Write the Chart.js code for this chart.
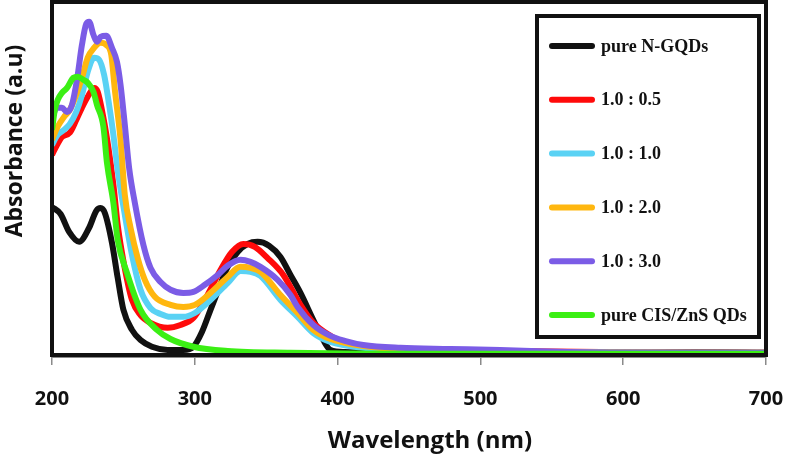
<!DOCTYPE html>
<html lang="en">
<head>
  <meta charset="UTF-8">
  <meta name="viewport" content="width=device-width, initial-scale=1">
  <title>UV-Vis Absorbance</title>
  <!-- Chart.js for visualization -->
  <script src="https://cdn.jsdelivr.net/npm/chart.js"></script>
  <style>
    html, body { margin: 0; padding: 0; background: #fff; }
    #wrap { width: 787px; height: 456px; position: relative; }
  </style>
</head>
<body>
  <div id="wrap">
    <canvas id="absChart" width="787" height="456"></canvas>
  </div>

  <script>
    // Series labels (legend order)
    const seriesLabels = ['pure N-GQDs', '1.0 : 0.5', '1.0 : 1.0', '1.0 : 2.0', '1.0 : 3.0', 'pure CIS/ZnS QDs'];
    const seriesColors = ['#111111', '#ff0a0a', '#5ad2f4', '#ffb70f', '#7b5ce6', '#3bef14'];

    // X axis tick labels (nm)
    const xTicks = [200, 300, 400, 500, 600, 700];

    // pure N-GQDs
    const ngqdWl  = [200, 206, 212, 219, 226, 231, 234, 237, 242, 246, 250, 256, 262, 270, 281, 292, 299, 305, 311, 317, 323, 330, 337, 344, 352, 360, 367, 374, 383, 390, 395, 405, 450, 500, 600, 650, 700];
    const ngqdAbs = [0.423, 0.403, 0.352, 0.324, 0.364, 0.412, 0.420, 0.406, 0.321, 0.222, 0.131, 0.074, 0.045, 0.026, 0.017, 0.017, 0.026, 0.068, 0.131, 0.193, 0.253, 0.295, 0.318, 0.324, 0.313, 0.281, 0.230, 0.179, 0.102, 0.045, 0.017, 0.011, 0.009, 0.009, 0.009, 0.011, 0.009];

    // 1.0 : 0.5
    const r05Wl  = [200, 203.5, 207, 212.5, 217, 221, 225, 229.5, 232, 236, 239.5, 243, 246, 250.5, 256, 262, 269, 281, 290, 299, 307, 318, 326, 334, 342, 351, 362, 374, 383, 395, 405, 430, 465, 514, 584, 700];
    const r05Abs = [0.571, 0.599, 0.622, 0.634, 0.670, 0.705, 0.736, 0.761, 0.750, 0.676, 0.591, 0.486, 0.372, 0.259, 0.159, 0.116, 0.094, 0.080, 0.088, 0.108, 0.159, 0.244, 0.295, 0.318, 0.310, 0.278, 0.230, 0.145, 0.094, 0.057, 0.037, 0.023, 0.017, 0.014, 0.011, 0.009];

    // 1.0 : 1.0
    const r10Wl  = [200, 204, 208.5, 212.5, 217, 221, 225, 229.5, 233, 236.5, 240, 243, 246, 251, 256, 262, 269, 276, 283, 292, 300, 311, 323, 332, 339, 346, 360, 372, 383, 395, 418, 451, 514, 700];
    const r10Abs = [0.599, 0.628, 0.642, 0.659, 0.693, 0.741, 0.807, 0.847, 0.841, 0.798, 0.713, 0.628, 0.528, 0.401, 0.287, 0.188, 0.136, 0.119, 0.111, 0.111, 0.122, 0.159, 0.207, 0.241, 0.239, 0.227, 0.159, 0.111, 0.065, 0.040, 0.023, 0.014, 0.011, 0.009];

    // 1.0 : 2.0
    const r20Wl  = [200, 204, 208.5, 212.5, 217, 221, 225, 229.5, 234, 238, 241.5, 244, 248, 251, 255, 260, 265, 272, 283, 292, 300, 311, 323, 332, 339, 346, 360, 372, 383, 395, 418, 451, 514, 584, 700];
    const r20Abs = [0.614, 0.651, 0.679, 0.699, 0.742, 0.790, 0.847, 0.875, 0.889, 0.883, 0.855, 0.756, 0.614, 0.457, 0.364, 0.278, 0.216, 0.168, 0.145, 0.139, 0.145, 0.179, 0.224, 0.253, 0.250, 0.239, 0.173, 0.122, 0.074, 0.048, 0.028, 0.017, 0.011, 0.009, 0.009];

    // 1.0 : 3.0
    const r30Wl  = [200, 203.5, 207, 210.5, 214, 217.5, 221, 224, 226, 229, 231.5, 234, 238, 242, 245.5, 248, 251, 254, 258, 264, 269, 276, 283, 292, 299, 307, 316, 323, 332, 339, 346, 358, 367, 372, 383, 395, 405, 418, 444, 479, 514, 561, 598, 700];
    const r30Abs = [0.676, 0.705, 0.705, 0.693, 0.713, 0.784, 0.884, 0.943, 0.949, 0.912, 0.892, 0.906, 0.909, 0.875, 0.835, 0.770, 0.656, 0.534, 0.435, 0.315, 0.250, 0.210, 0.188, 0.179, 0.182, 0.202, 0.230, 0.256, 0.273, 0.267, 0.253, 0.216, 0.173, 0.139, 0.088, 0.057, 0.043, 0.031, 0.023, 0.020, 0.017, 0.011, 0.009, 0.009];

    // pure CIS/ZnS QDs
    const cisWl  = [200, 202, 204, 207, 210.5, 215, 218, 222, 225, 229, 231.5, 236, 238.5, 243, 246, 252.5, 262, 273.5, 283, 299, 323, 367, 444, 700];
    const cisAbs = [0.642, 0.699, 0.727, 0.747, 0.761, 0.790, 0.793, 0.784, 0.776, 0.750, 0.713, 0.651, 0.548, 0.435, 0.330, 0.236, 0.131, 0.074, 0.048, 0.026, 0.014, 0.009, 0.006, 0.006];

    const seriesWl  = [ngqdWl, r05Wl, r10Wl, r20Wl, r30Wl, cisWl];
    const seriesAbs = [ngqdAbs, r05Abs, r10Abs, r20Abs, r30Abs, cisAbs];

    function toPoints(wl, abs) {
      return wl.map((x, i) => ({ x: x, y: abs[i] }));
    }

    // Later series in the legend are painted on top (lower order = drawn last)
    const datasets = seriesLabels.map((label, i) => ({
      label: label,
      data: toPoints(seriesWl[i], seriesAbs[i]),
      borderColor: seriesColors[i],
      backgroundColor: seriesColors[i],
      borderWidth: 6,
      pointRadius: 0,
      cubicInterpolationMode: 'monotone',
      fill: false,
      order: seriesLabels.length - i
    }));

    // Black frame around the plot, boxed legend and both axis titles
    const framePlugin = {
      id: 'frame',
      afterDatasetsDraw(chart) {
        const ctx = chart.ctx;
        const a = chart.chartArea;
        ctx.save();
        ctx.strokeStyle = '#111';
        ctx.lineWidth = 4;
        ctx.strokeRect(a.left, a.top, a.right - a.left, a.bottom - a.top - 2);

        // legend box
        ctx.lineWidth = 4;
        ctx.strokeRect(537, 16, 222, 321);
        ctx.font = 'bold 18px "Liberation Serif", "Times New Roman", serif';
        ctx.textBaseline = 'middle';
        ctx.lineCap = 'round';
        seriesLabels.forEach((label, i) => {
          const y = 46 + i * 53.8;
          ctx.strokeStyle = seriesColors[i];
          ctx.lineWidth = 6;
          ctx.beginPath();
          ctx.moveTo(552, y);
          ctx.lineTo(592, y);
          ctx.stroke();
          ctx.fillStyle = '#111';
          ctx.fillText(label, 601, y + 1);
        });

        // x axis title (sits a little right of the plot centre in the original)
        ctx.font = 'bold 24px "Open Sans", sans-serif';
        ctx.textAlign = 'center';
        ctx.fillStyle = '#111';
        ctx.fillText('Wavelength (nm)', 430, 441);

        // y axis title
        ctx.translate(15, 141);
        ctx.rotate(-Math.PI / 2);
        ctx.font = 'bold 23px "Open Sans", sans-serif';
        ctx.fillText('Absorbance (a.u)', 0, 0);
        ctx.restore();
      }
    };

    const ctx = document.getElementById('absChart').getContext('2d');
    new Chart(ctx, {
      type: 'line',
      data: { datasets: datasets },
      options: {
        responsive: false,
        animation: false,
        layout: { padding: { left: 52, right: 21, top: 2, bottom: 0 } },
        plugins: {
          legend: { display: false },
          tooltip: { enabled: false }
        },
        scales: {
          x: {
            type: 'linear',
            min: xTicks[0],
            max: xTicks[xTicks.length - 1],
            grid: {
              drawOnChartArea: false,
              drawTicks: true,
              tickLength: 8,
              color: '#8a8a8a',
              lineWidth: 1.5
            },
            border: { display: true, color: '#8a8a8a', width: 2 },
            ticks: {
              stepSize: 100,
              padding: 22,
              maxRotation: 0,
              color: '#111',
              font: { family: '"Open Sans", sans-serif', size: 20, weight: 'bold' }
            },
            afterBuildTicks(scale) {
              scale.ticks = xTicks.map(v => ({ value: v }));
            },
            afterFit(scale) {
              // keep the plot box where the reference has it
              scale.height = 99;
              scale.paddingLeft = 0;
              scale.paddingRight = 0;
            },
            title: { display: false }
          },
          y: {
            display: false,
            min: -0.003,
            max: 1.005
          }
        }
      },
      plugins: [framePlugin]
    });
  </script>
</body>
</html>
